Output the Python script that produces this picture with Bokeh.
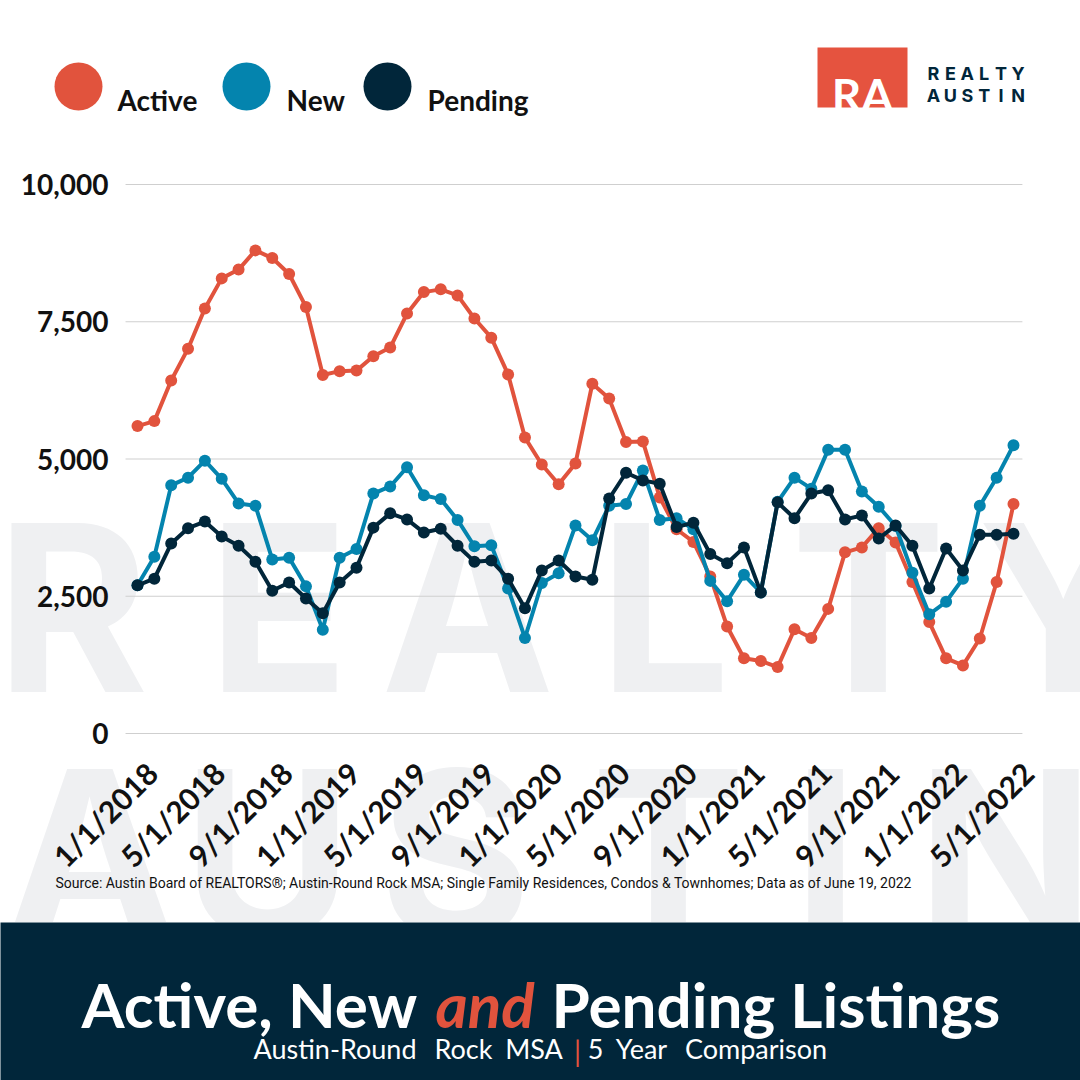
from math import pi
from bokeh.plotting import figure
from bokeh.layouts import column
from bokeh.models import Range1d, FixedTicker, NumeralTickFormatter, Label
from bokeh.core.properties import value
from bokeh.embed import file_html
from bokeh.resources import INLINE

# ---------------- data ----------------
tick_labels = ["1/1/2018", "5/1/2018", "9/1/2018", "1/1/2019", "5/1/2019", "9/1/2019",
               "1/1/2020", "5/1/2020", "9/1/2020", "1/1/2021", "5/1/2021", "9/1/2021",
               "1/1/2022", "5/1/2022"]
months = list(range(53))  # monthly, 1/1/2018 .. 5/1/2022

active = [5600, 5690, 6430, 7010, 7740, 8290, 8450, 8800, 8660, 8370, 7770, 6530,
          6600, 6610, 6870, 7030, 7650, 8040, 8090, 7980, 7560, 7210, 6540, 5390,
          4900, 4540, 4920, 6370, 6100, 5310, 5320, 4300, 3720, 3490, 2860, 1950,
          1370, 1320, 1210, 1900, 1740, 2270, 3300, 3390, 3740, 3480, 2760, 2030,
          1370, 1240, 1730, 2760, 4180]
new = [2700, 3220, 4520, 4660, 4970, 4640, 4190, 4150, 3170, 3200, 2680, 1890,
       3200, 3360, 4370, 4500, 4850, 4340, 4270, 3890, 3410, 3430, 2640, 1740,
       2740, 2920, 3790, 3520, 4150, 4180, 4790, 3890, 3920, 3720, 2780, 2410,
       2890, 2570, 4220, 4660, 4460, 5170, 5170, 4410, 4130, 3780, 2930, 2170,
       2400, 2820, 4150, 4660, 5250]
pending = [2700, 2820, 3460, 3740, 3860, 3590, 3420, 3130, 2600, 2750, 2460, 2190,
           2750, 3020, 3750, 4010, 3900, 3660, 3730, 3420, 3130, 3150, 2820, 2280,
           2970, 3150, 2860, 2800, 4280, 4750, 4610, 4550, 3760, 3840, 3270, 3100,
           3390, 2570, 4210, 3920, 4370, 4430, 3900, 3970, 3550, 3790, 3420, 2640,
           3370, 2970, 3620, 3620, 3640]
series_names = ["Active", "New", "Pending"]
y_ticks = [0, 2500, 5000, 7500, 10000]

RED = "#e1533d"
TEAL = "#0484ae"
NAVY = "#01263a"
WM = "#eff0f2"
colors = [RED, TEAL, NAVY]

# ---------------- header ----------------
hdr = figure(width=1080, height=150, x_range=Range1d(0, 1080), y_range=Range1d(150, 0),
             x_axis_type=None, y_axis_type=None, toolbar_location=None,
             output_backend="svg", min_border=0, outline_line_color=None)
hdr.scatter(x=[78, 246, 387], y=[86, 86, 86], size=48, color=colors, line_color=None)
hdr.text(x=[117, 286, 427], y=[99, 99, 99], text=series_names, text_font=value("Lato"),
         text_font_style="bold", text_font_size="28px", text_color="#111111",
         text_baseline="alphabetic")
hdr.quad(left=[817], right=[907], top=[47], bottom=[107], color="#e5533f", line_color=None)
hdr.text(x=[862], y=[94], text=["RA"], text_font=value("Lato"), text_font_style="bold",
         text_font_size="46px", text_color="white", text_align="center",
         text_baseline="alphabetic")
for row, word in ((73, "REALTY"), (95, "AUSTIN")):
    hdr.text(x=[933 + k * 16.9 for k in range(6)], y=[row] * 6, text=list(word),
             text_font=value("Inter"), text_font_style="bold", text_font_size="18px",
             text_color=NAVY, text_align="center", text_baseline="alphabetic")

# ---------------- chart (frame covers the whole canvas; axes at fixed locations) ----------------
H = 772            # canvas y 150 .. 922
DX = 16.846        # px per month
DY = 0.0549        # px per listing
X0PX, Y0PX = 137, 583
p = figure(width=1080, height=H,
           x_range=Range1d(-X0PX / DX, (1080 - X0PX) / DX),
           y_range=Range1d(-(H - Y0PX) / DY, Y0PX / DY),
           toolbar_location=None, output_backend="svg", min_border=0,
           outline_line_color=None)

# watermark
for ch, cx in zip("REALTY", [72, 278, 467, 664, 868, 1062]):
    p.add_layout(Label(x=cx, y=H - 540 + 83, x_units="screen", y_units="screen", text=ch,
                       text_font="Inter", text_font_style="bold", text_font_size="232px",
                       text_color=WM, text_align="center", text_baseline="alphabetic",
                       level="image"))
for ch, cx in zip("AUSTIN", [90, 267, 455, 668, 825, 1005]):
    p.add_layout(Label(x=cx, y=H - 786 + 83, x_units="screen", y_units="screen", text=ch,
                       text_font="Inter", text_font_style="bold", text_font_size="232px",
                       text_color=WM, text_align="center", text_baseline="alphabetic",
                       level="image"))

x_left, x_right = -0.71, 52.53
p.segment(x0=[x_left] * len(y_ticks), y0=y_ticks, x1=[x_right] * len(y_ticks), y1=y_ticks,
          line_color="#cfcfcf", line_width=1)

for vals, c in zip([active, new, pending], colors):
    p.line(months, vals, line_color=c, line_width=4)
    p.scatter(months, vals, size=12, fill_color=c, line_color=None)

p.xgrid.visible = False
p.ygrid.visible = False
p.yaxis.fixed_location = x_left
p.xaxis.fixed_location = 0
p.yaxis.ticker = FixedTicker(ticks=y_ticks)
p.yaxis.formatter = NumeralTickFormatter(format="0,0")
label_shift = 0.85  # category-style label placement, as in the reference
x_tick_pos = [i * 4 + label_shift for i in range(len(tick_labels))]
p.xaxis.ticker = FixedTicker(ticks=x_tick_pos)
p.xaxis.major_label_overrides = {t: lab for t, lab in zip(x_tick_pos, tick_labels)}
p.xaxis.major_label_orientation = pi / 4
for ax in (p.xaxis, p.yaxis):
    ax.axis_line_color = None
    ax.major_tick_line_color = None
    ax.minor_tick_line_color = None
    ax.major_label_text_font = "Lato"
    ax.major_label_text_font_style = "bold"
    ax.major_label_text_color = "#111111"
p.yaxis.major_label_text_font_size = "28px"
p.yaxis.major_label_standoff = 11
p.xaxis.major_label_text_font_size = "30px"
p.xaxis.major_label_standoff = 28

p.add_layout(Label(x=55, y=H - 732, x_units="screen", y_units="screen",
                   text="Source: Austin Board of REALTORS®; Austin-Round Rock MSA; Single Family Residences, Condos & Townhomes; Data as of June 19, 2022",
                   text_font="Roboto", text_font_size="14px", text_color="#111111",
                   text_baseline="middle"))

# ---------------- banner ----------------
ban = figure(width=1080, height=158, x_range=Range1d(0, 1080), y_range=Range1d(1080, 922),
             x_axis_type=None, y_axis_type=None, toolbar_location=None,
             output_backend="svg", min_border=0, outline_line_color=None,
             background_fill_color=NAVY, border_fill_color=NAVY)
ban.text(x=[81, 551], y=[1003, 1003], text=["Active, New", "Pending Listings"],
         text_font=value("Lato"), text_font_style="bold", text_font_size="62px",
         text_color="white", text_baseline="alphabetic")
ban.text(x=[435], y=[1003], text=["and"], text_font=value("Lato"),
         text_font_style="bold italic", text_font_size="62px", text_color=RED,
         text_baseline="alphabetic")
ban.text(x=[334.5, 463, 533.5, 595, 641, 755.5], y=[1048] * 6,
         text=["Austin-Round", "Rock", "MSA", "5", "Year", "Comparison"],
         text_font=value("Lato"), text_font_size="27px", text_color="white",
         text_align="center", text_baseline="alphabetic")
ban.text(x=[577], y=[1050], text=["|"], text_font=value("Lato"), text_font_size="28px",
         text_color=RED, text_align="center", text_baseline="alphabetic")

layout = column(hdr, p, ban, spacing=0)
open("out.html", "w").write(file_html(layout, INLINE))
